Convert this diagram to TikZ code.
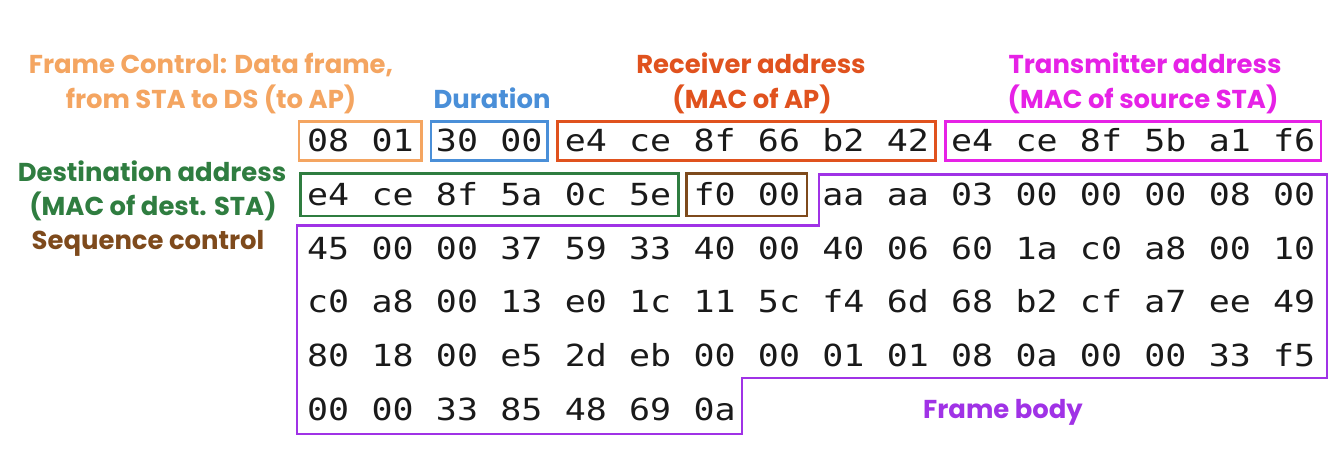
\documentclass[tikz,border=0pt]{standalone}
\usepackage{fontspec}
\setmainfont{Poppins}
\newfontfamily\hexfont[FakeStretch=1.15]{DejaVu Sans Mono}
\usetikzlibrary{fit}
\definecolor{cFC}{HTML}{F4A561}
\definecolor{cDur}{HTML}{4A8FD8}
\definecolor{cRA}{HTML}{E0521E}
\definecolor{cTA}{HTML}{E622E6}
\definecolor{cDA}{HTML}{2F7D40}
\definecolor{cSC}{HTML}{7E4A1C}
\definecolor{cFB}{HTML}{A032E6}
\definecolor{cHex}{HTML}{1A1A1A}
\begin{document}
\begin{tikzpicture}[x=0.75pt,y=-0.75pt,
  byte/.style={inner sep=0pt, text height=16.3pt, text depth=0pt,
    font=\hexfont\fontsize{22.8}{24}\selectfont, text=cHex},
  fbox/.style={draw=#1, line width=2pt, inner xsep=5pt, inner ysep=6.3pt},
  lbl/.style={font=\fontsize{19.4}{26}\selectfont\bfseries, text=#1, inner sep=0pt, anchor=base}]
\useasboundingbox (0,0) rectangle (1344,471);

\foreach \row [count=\r from 0] in {
  {08,01,30,00,e4,ce,8f,66,b2,42,e4,ce,8f,5b,a1,f6},
  {e4,ce,8f,5a,0c,5e,f0,00,aa,aa,03,00,00,00,08,00},
  {45,00,00,37,59,33,40,00,40,06,60,1a,c0,a8,00,10},
  {c0,a8,00,13,e0,1c,11,5c,f4,6d,68,b2,cf,a7,ee,49},
  {80,18,00,e5,2d,eb,00,00,01,01,08,0a,00,00,33,f5},
  {00,00,33,85,48,69,0a}}
  \foreach \b [count=\c from 0] in \row
    \node[byte] (b\r-\c) at ({328.2+64.4*\c},{141+53.65*\r}) {\b};

% field boxes
\node[fbox=cFC, fit=(b0-0)(b0-1), inner xsep=5.8pt] (fc) {};
\node[fbox=cDur, fit=(b0-2)(b0-3), inner xsep=3.5pt] (dur) {};
\node[fbox=cRA, fit=(b0-4)(b0-9)] (ra) {};
\node[fbox=cTA, fit=(b0-10)(b0-15), inner xsep=4pt] (ta) {};
\node[fbox=cDA, fit=(b1-0)(b1-5), inner ysep=7.6pt] (da) {};
\node[fbox=cSC, fit=(b1-6)(b1-7), inner ysep=7.6pt] (sc) {};

% frame body outline
\draw[cFB, line width=2pt, line join=miter]
  (819,174.3) -- (1327,174.3) -- (1327,378) -- (742,378) -- (742,434)
  -- (297,434) -- (297,225.5) -- (819,225.5) -- cycle;

% labels
\node[lbl=cFC] (lfc1) at (211,73.3) {Frame Control: Data frame,};
\node[lbl=cFC] (lfc2) at (211,108) {from STA to DS (to AP)};
\node[lbl=cDur] (ldur) at (492,108) {Duration};
\node[lbl=cRA] (lra1) at (751,73.3) {Receiver address};
\node[lbl=cRA] (lra2) at (752,108) {(MAC of AP)};
\node[lbl=cTA] (lta1) at (1145,73.3) {Transmitter address};
\node[lbl=cTA] (lta2) at (1143,108) {(MAC of source STA)};
\node[lbl=cDA] (lda1) at (152,181) {Destination address};
\node[lbl=cDA] (lda2) at (153,215) {(MAC of dest. STA)};
\node[lbl=cSC] (lsc) at (148,249) {Sequence control};
\node[lbl=cFB] (lfb) at (1003,418.7) {Frame body};
\end{tikzpicture}
\end{document}
